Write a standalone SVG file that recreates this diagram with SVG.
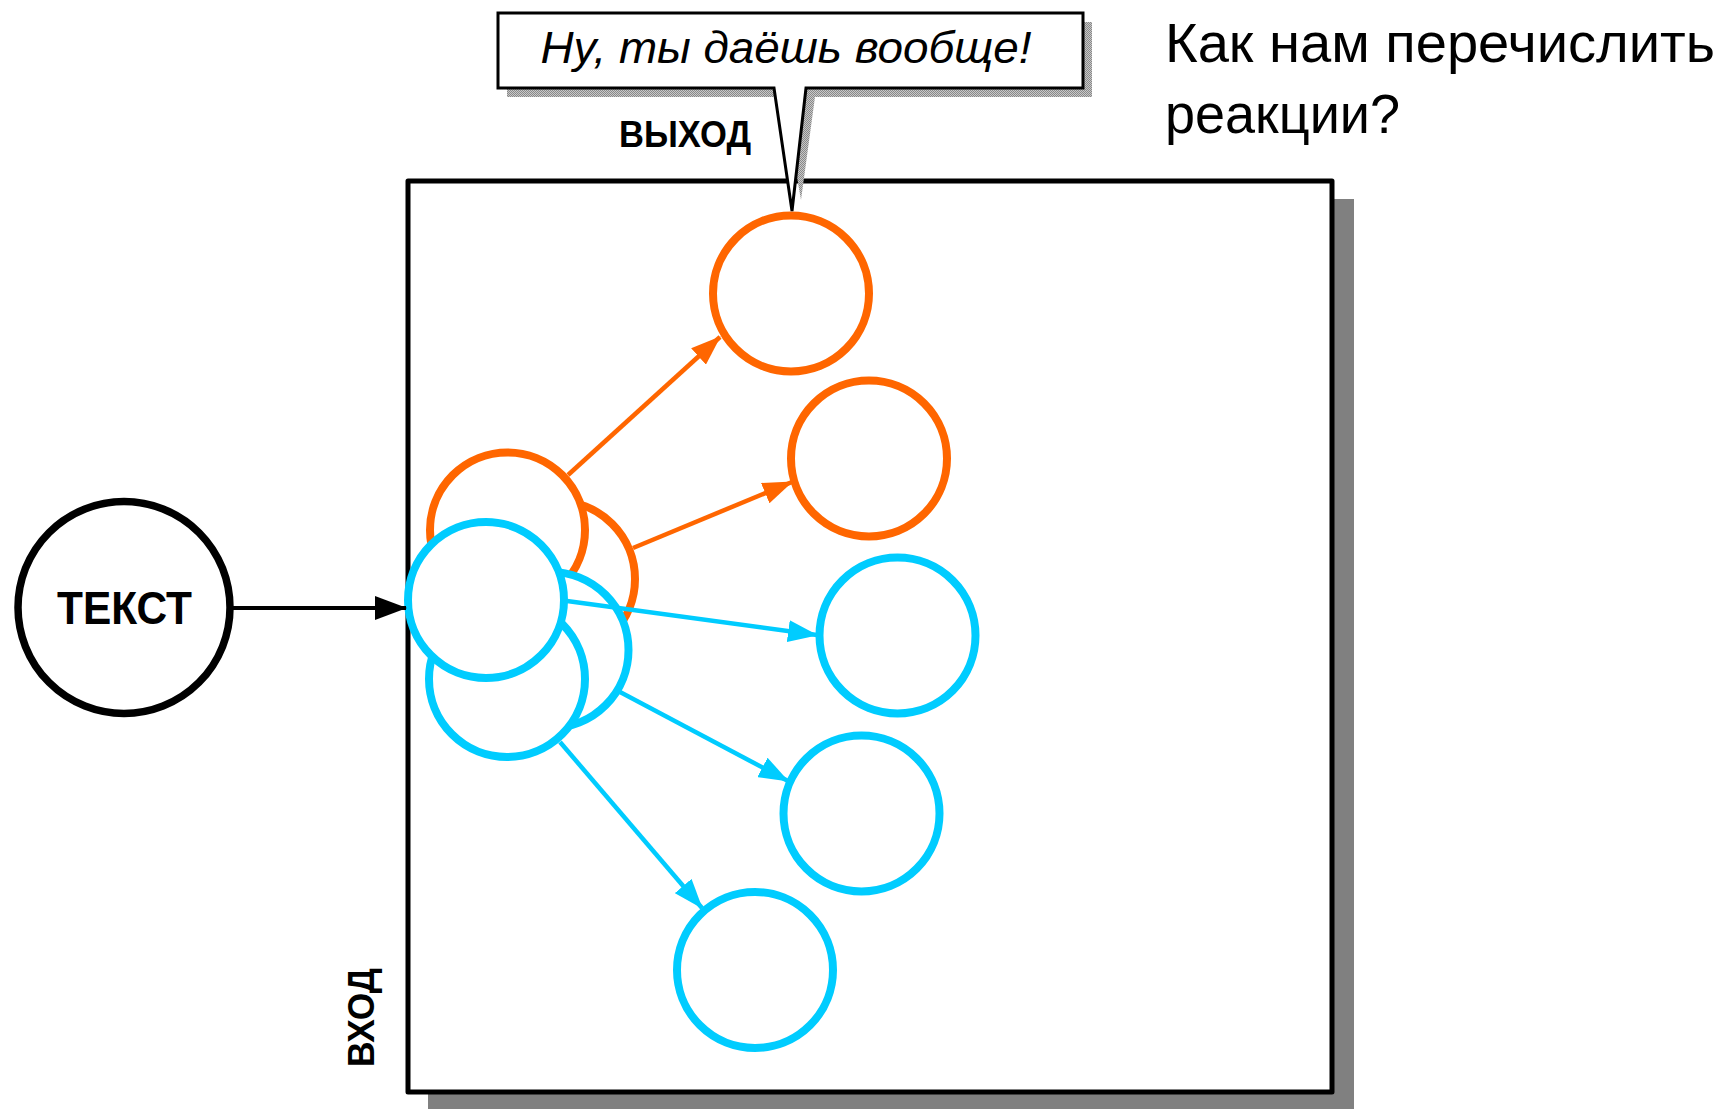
<svg xmlns="http://www.w3.org/2000/svg" width="1726" height="1109" viewBox="0 0 1726 1109">
<style>
.lbl{font-family:"Liberation Sans",Arial,sans-serif;fill:#000}
.b{font-weight:bold}
.or{fill:#fff;stroke:#FF6600;stroke-width:8}
.cy{fill:#fff;stroke:#00CCFF;stroke-width:8}
.lo{stroke:#FF6600;stroke-width:4.5;fill:none}
.lc{stroke:#00CCFF;stroke-width:4.5;fill:none}
</style>
<defs>
<pattern id="dots" width="2" height="2" patternUnits="userSpaceOnUse">
<rect width="2" height="2" fill="#c8c8c8"/>
<rect width="1" height="1" fill="#888"/>
<rect x="1" y="1" width="1" height="1" fill="#888"/>
</pattern>
<marker id="aO" markerUnits="userSpaceOnUse" markerWidth="30" markerHeight="22" refX="29" refY="11" orient="auto"><path d="M0,0 L30,11 L0,22 Z" fill="#FF6600"/></marker>
<marker id="aC" markerUnits="userSpaceOnUse" markerWidth="30" markerHeight="22" refX="29" refY="11" orient="auto"><path d="M0,0 L30,11 L0,22 Z" fill="#00CCFF"/></marker>
<marker id="aK" markerUnits="userSpaceOnUse" markerWidth="32" markerHeight="24" refX="31" refY="12" orient="auto"><path d="M0,0 L32,12 L0,24 Z" fill="#000"/></marker>
</defs>
<rect width="1726" height="1109" fill="#fff"/>

<g id="title">
<text class="lbl" x="1165" y="62" font-size="56" textLength="550" lengthAdjust="spacingAndGlyphs">Как нам перечислить</text>
<text class="lbl" x="1165" y="133" font-size="56" textLength="235" lengthAdjust="spacingAndGlyphs">реакции?</text>
</g>

<g id="system">
<rect x="428" y="199" width="926" height="920" fill="#808080"/>
<rect x="408" y="181" width="924" height="911" fill="#fff" stroke="#000" stroke-width="5" stroke-linejoin="round"/>
<text class="lbl b" x="619" y="147" font-size="36" textLength="132" lengthAdjust="spacingAndGlyphs">ВЫХОД</text>
<text class="lbl b" transform="translate(374,1067) rotate(-90)" font-size="37" textLength="99" lengthAdjust="spacingAndGlyphs">ВХОД</text>
</g>

<g id="text-node">
<circle cx="124" cy="607.5" r="106" fill="#fff" stroke="#000" stroke-width="7.5"/>
<text class="lbl b" x="124.5" y="624" font-size="47" text-anchor="middle" textLength="135" lengthAdjust="spacingAndGlyphs">ТЕКСТ</text>
</g>

<g id="in-orange-b"><circle class="or" cx="557" cy="579" r="78"/></g>
<g id="in-orange-a"><circle class="or" cx="507.5" cy="530" r="77.5"/></g>
<g id="in-cyan-c"><circle class="cy" cx="550.5" cy="650" r="78"/></g>
<g id="in-cyan-d"><circle class="cy" cx="507" cy="679" r="78"/></g>
<g id="in-cyan-e"><circle class="cy" cx="486" cy="600" r="78"/></g>

<g id="connectors">
<line x1="233" y1="608" x2="406" y2="608" stroke="#000" stroke-width="4" marker-end="url(#aK)"/>
<line class="lo" x1="568" y1="475" x2="720" y2="337" marker-end="url(#aO)"/>
<line class="lo" x1="633" y1="548" x2="792" y2="482" marker-end="url(#aO)"/>
<line class="lc" x1="567" y1="601" x2="817" y2="635" marker-end="url(#aC)"/>
<line class="lc" x1="620" y1="692" x2="788" y2="781" marker-end="url(#aC)"/>
<line class="lc" x1="560" y1="742" x2="702" y2="908" marker-end="url(#aC)"/>
</g>

<g id="out-orange-1"><circle class="or" cx="791" cy="293.5" r="78"/></g>
<g id="out-orange-2"><circle class="or" cx="869" cy="458.5" r="78"/></g>
<g id="out-cyan-3"><circle class="cy" cx="897.5" cy="635.5" r="78"/></g>
<g id="out-cyan-4"><circle class="cy" cx="861.5" cy="813.5" r="78"/></g>
<g id="out-cyan-5"><circle class="cy" cx="755" cy="970" r="78"/></g>

<g id="callout">
<path d="M507,22 H1092 V97 H815 L801,200 L783,97 H507 Z" fill="url(#dots)"/>
<path d="M498,13 H1083 V88 H806 L792,211 L774,88 H498 Z" fill="#fff" stroke="#000" stroke-width="3" stroke-linejoin="miter"/>
<text class="lbl" x="786" y="63" font-size="45" font-style="italic" text-anchor="middle" textLength="491" lengthAdjust="spacingAndGlyphs">Ну, ты даёшь вообще!</text>
</g>
</svg>
